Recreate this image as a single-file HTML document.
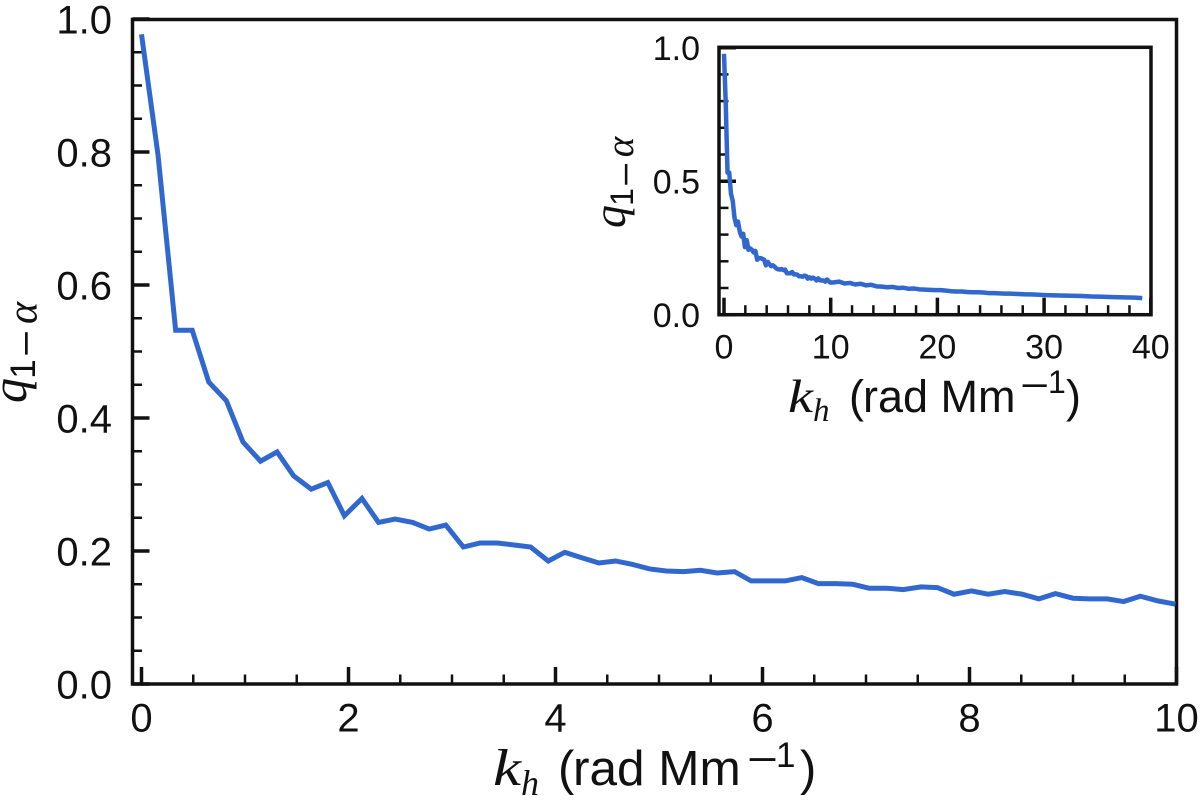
<!DOCTYPE html>
<html>
<head>
<meta charset="utf-8">
<title>q vs k_h</title>
<style>
html,body{margin:0;padding:0;background:#fff;width:1200px;height:803px;overflow:hidden}
svg{display:block}
.sans{font-family:"Liberation Sans",sans-serif;fill:#111}
.serif{font-family:"Liberation Serif",serif;font-style:italic;fill:#111}
</style>
</head>
<body>
<svg id="chart" width="1200" height="803" viewBox="0 0 1200 803" xmlns="http://www.w3.org/2000/svg">
  <g id="main-plot"></g>
  <g id="inset-plot"></g>

  <g>
    <text class="serif" x="493" y="785" font-size="52" textLength="28" lengthAdjust="spacingAndGlyphs">k</text>
    <text class="serif" x="521" y="795" font-size="36">h</text>
    <text class="sans" x="558" y="785" font-size="49">(</text>
    <text class="sans" x="573" y="785" font-size="49.5">rad Mm</text>
    <text class="sans" x="747" y="773" font-size="40" textLength="31" lengthAdjust="spacingAndGlyphs">−</text>
    <text class="sans" x="776" y="767" font-size="35">1</text>
    <text class="sans" x="800" y="785" font-size="49">)</text>
  </g>
  <g>
    <text class="serif" transform="translate(26,403) rotate(-90)" font-size="50">q</text>
    <text class="sans" transform="translate(35,369) rotate(-90)" font-size="35" text-anchor="middle">1</text>
    <text class="sans" transform="translate(39,357) rotate(-90)" font-size="38" textLength="27" lengthAdjust="spacingAndGlyphs">−</text>
    <text class="serif" transform="translate(36.5,313) rotate(-90)" font-size="42" text-anchor="middle">α</text>
  </g>
  <g>
    <text class="serif" x="788" y="412" font-size="47" textLength="25" lengthAdjust="spacingAndGlyphs">k</text>
    <text class="serif" x="813" y="421" font-size="33">h</text>
    <text class="sans" x="849" y="412" font-size="45">(</text>
    <text class="sans" x="863" y="412" font-size="45">rad Mm</text>
    <text class="sans" x="1020" y="398" font-size="37" textLength="29" lengthAdjust="spacingAndGlyphs">−</text>
    <text class="sans" x="1048" y="393" font-size="32">1</text>
    <text class="sans" x="1066" y="412" font-size="45">)</text>
  </g>
  <g>
    <text class="serif" transform="translate(625,228) rotate(-90)" font-size="46">q</text>
    <text class="sans" transform="translate(633,197) rotate(-90)" font-size="32" text-anchor="middle">1</text>
    <text class="sans" transform="translate(638,187) rotate(-90)" font-size="36" textLength="25" lengthAdjust="spacingAndGlyphs">−</text>
    <text class="serif" transform="translate(633,147) rotate(-90)" font-size="39" text-anchor="middle">α</text>
  </g>
</svg>
<script>
const kValues = [0,0.16,0.33,0.49,0.65,0.82,0.98,1.15,1.31,1.47,1.64,1.80,1.96,2.13,2.29,2.45,2.62,2.78,2.94,3.11,3.27,3.44,3.60,3.76,3.93,4.09,4.25,4.42,4.58,4.74,4.91,5.07,5.24,5.40,5.56,5.73,5.89,6.05,6.22,6.38,6.54,6.71,6.87,7.03,7.20,7.36,7.53,7.69,7.85,8.02,8.18,8.34,8.51,8.67,8.83,9.00,9.16,9.33,9.49,9.65,9.82,9.99];
const qValues = [0.977,0.795,0.532,0.532,0.454,0.426,0.364,0.335,0.349,0.313,0.293,0.303,0.253,0.279,0.243,0.248,0.243,0.233,0.239,0.206,0.212,0.212,0.209,0.206,0.185,0.198,0.190,0.182,0.185,0.180,0.173,0.170,0.169,0.171,0.167,0.169,0.155,0.155,0.155,0.160,0.151,0.151,0.150,0.144,0.144,0.142,0.146,0.145,0.135,0.140,0.135,0.139,0.135,0.128,0.136,0.129,0.128,0.128,0.124,0.132,0.125,0.120];
const insetTailK = [10.3,10.8,11.3,11.8,12.3,12.8,13.3,13.8,14.3,14.8,15.3,15.8,16.3,16.8,17.3,17.8,18.3,18.8,19.3,19.8,20.3,20.8,21.3,21.8,22.3,22.8,23.3,23.8,24.3,24.8,25.3,25.8,26.3,26.8,27.3,27.8,28.3,28.8,29.3,29.8,30.5,31.5,32.5,33.5,34.5,35.5,36.5,37.5,38.5,39.2];
const insetTailQ = [0.121,0.124,0.117,0.119,0.113,0.116,0.110,0.112,0.106,0.105,0.103,0.104,0.100,0.101,0.097,0.098,0.095,0.094,0.093,0.092,0.092,0.090,0.088,0.087,0.087,0.085,0.084,0.084,0.083,0.081,0.081,0.080,0.079,0.079,0.078,0.077,0.076,0.076,0.075,0.074,0.073,0.072,0.071,0.070,0.068,0.067,0.066,0.065,0.064,0.062];
const mainXMajor = [0,2,4,6,8,10];
const mainXMinor = [0.5,1,1.5,2.5,3,3.5,4.5,5,5.5,6.5,7,7.5,8.5,9,9.5];
const mainYMajor = ["0.0","0.2","0.4","0.6","0.8","1.0"];
const mainYMinor = [0.05,0.1,0.15,0.25,0.3,0.35,0.45,0.5,0.55,0.65,0.7,0.75,0.85,0.9,0.95];
const insetXMajor = [0,10,20,30,40];
const insetXMinor = [2,4,6,8,12,14,16,18,22,24,26,28,32,34,36,38];
const insetYMajor = ["0.0","0.5","1.0"];
const insetYMinor = [0.1,0.2,0.3,0.4,0.6,0.7,0.8,0.9];

const SVG_NS = "http://www.w3.org/2000/svg";
const INK = "#111";
const BLUE = "#3168cf";

function mk(parent, tag, attrs) {
  const el = document.createElementNS(SVG_NS, tag);
  for (const k in attrs) el.setAttribute(k, attrs[k]);
  parent.appendChild(el);
  return el;
}

function drawAxes(root, cfg) {
  const x = cfg.x, y = cfg.y;
  const frame = mk(root, "rect", {x: cfg.left, y: cfg.top, width: cfg.right - cfg.left, height: cfg.bottom - cfg.top, fill: "none", stroke: INK, "stroke-width": 3.5});
  
  

  cfg.xMajor.forEach(v => {
    const t = mk(root, "line", {x1: x(v), x2: x(v), y1: cfg.bottom, y2: cfg.bottom - cfg.majorLen, stroke: INK, "stroke-width": 3.5});
    
    
    const l = mk(root, "text", {x: x(v), y: cfg.xLabelY, "font-size": cfg.fontSize, "text-anchor": "middle", class: "sans"});
    l.textContent = String(v);
    
    
  });
  cfg.xMinor.forEach(v => {
    const t = mk(root, "line", {x1: x(v), x2: x(v), y1: cfg.bottom, y2: cfg.bottom - cfg.minorLen, stroke: INK, "stroke-width": 2.5});
    
    
  });
  cfg.yMajor.forEach(s => {
    const v = parseFloat(s);
    const t = mk(root, "line", {x1: cfg.left, x2: cfg.left + cfg.majorLen, y1: y(v), y2: y(v), stroke: INK, "stroke-width": 3.5});
    
    
    const l = mk(root, "text", {x: cfg.yLabelX, y: y(v) + cfg.yLabelDy, "font-size": cfg.fontSize, "text-anchor": "end", class: "sans"});
    l.textContent = s;
    
    
  });
  cfg.yMinor.forEach(v => {
    const t = mk(root, "line", {x1: cfg.left, x2: cfg.left + cfg.minorLen, y1: y(v), y2: y(v), stroke: INK, "stroke-width": 2.5});
    
    
  });
}

function drawLine(root, xs, ys, x, y, width, join, name) {
  const pts = xs.map((v, i) => x(v).toFixed(2) + "," + y(ys[i]).toFixed(2)).join(" ");
  const line = mk(root, "polyline", {points: pts, fill: "none", stroke: BLUE, "stroke-width": width, "stroke-linejoin": join, "stroke-miterlimit": 6});
  
  
}

const mainX = v => 141.5 + 103.5 * v;
const mainY = v => 684 - 665 * v;
const insetX = v => 724 + 10.67 * v;
const insetY = v => 314.7 - 267 * v;

const mainRoot = document.getElementById("main-plot");
const insetRoot = document.getElementById("inset-plot");

drawAxes(mainRoot, {x: mainX, y: mainY, left: 132.5, right: 1176.5, top: 19.5, bottom: 684,
  xMajor: mainXMajor, xMinor: mainXMinor, yMajor: mainYMajor, yMinor: mainYMinor,
  majorLen: 17, minorLen: 9.5, fontSize: 40, xLabelY: 731.5, yLabelX: 112, yLabelDy: 14.5});
drawLine(mainRoot, kValues, qValues, mainX, mainY, 5, "miter", "q-curve");

drawAxes(insetRoot, {x: insetX, y: insetY, left: 719, right: 1151, top: 47.3, bottom: 314.7,
  xMajor: insetXMajor, xMinor: insetXMinor, yMajor: insetYMajor, yMinor: insetYMinor,
  majorLen: 17, minorLen: 9.5, fontSize: 34, xLabelY: 358.5, yLabelX: 700, yLabelDy: 12.3});
drawLine(insetRoot, kValues.concat(insetTailK), qValues.concat(insetTailQ), insetX, insetY, 4.5, "round", "inset-q-curve");
</script>
</body>
</html>
